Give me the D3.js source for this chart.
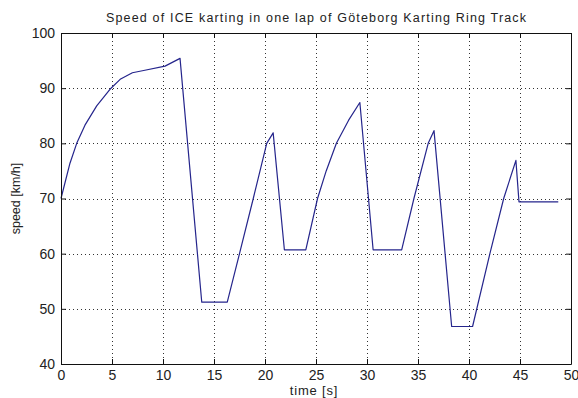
<!DOCTYPE html>
<html>
<head>
<meta charset="utf-8">
<script src="https://cdn.jsdelivr.net/npm/d3@7"></script>
<style>
  html, body { margin: 0; padding: 0; background: #fff; }
  svg { display: block; font-family: "Liberation Sans", Arial, sans-serif; }
</style>
</head>
<body>
<div id="chart"></div>
<script>
// speed trace
const timeS = [0, 0.88, 1.54, 2.35, 3.5, 4.8, 5.8, 7.0, 8.1, 10.2, 11.67,
    13.8, 16.3, 17.5, 18.85, 20.17, 20.8,
    21.9, 24.0, 25.15, 26.0, 27.0, 28.2, 29.3,
    30.6, 33.4, 34.6, 36.0, 36.57,
    38.3, 40.35, 42.06, 43.4, 44.6,
    44.9, 48.75];
const speedKmh = [70, 76.4, 80, 83.3, 86.8, 89.8, 91.6, 92.8, 93.2, 94.0, 95.4,
    51.2, 51.2, 60.0, 70.0, 80.0, 81.9,
    60.7, 60.7, 70.0, 75.0, 80.0, 84.2, 87.4,
    60.7, 60.7, 70.0, 80.0, 82.3,
    46.8, 46.8, 60.1, 70.0, 76.9,
    69.4, 69.4];
const xTicks = [0, 5, 10, 15, 20, 25, 30, 35, 40, 45, 50];
const yTicks = [40, 50, 60, 70, 80, 90, 100];

const W = 578, H = 398;
const margin = { top: 33, right: 7, bottom: 34, left: 61 };
const innerW = W - margin.left - margin.right;
const innerH = H - margin.top - margin.bottom;

const svg = d3.select('#chart').append('svg')
    .attr('width', W)
    .attr('height', H);

const g = svg.append('g')
    .attr('transform', `translate(${margin.left},${margin.top})`);

const x = d3.scaleLinear().domain([0, 50]).range([0, innerW]);
const y = d3.scaleLinear().domain([40, 100]).range([innerH, 0]);

// dotted grid
g.append('g')
    .selectAll('line')
    .data(xTicks.slice(1, -1))
    .join('line')
    .attr('x1', d => Math.round(x(d)) + 0.5)
    .attr('x2', d => Math.round(x(d)) + 0.5)
    .attr('y1', 0)
    .attr('y2', innerH)
    .attr('stroke', '#333')
    .attr('stroke-dasharray', '1,3');

g.append('g')
    .selectAll('line')
    .data(yTicks.slice(1, -1))
    .join('line')
    .attr('y1', d => Math.round(y(d)) + 0.5)
    .attr('y2', d => Math.round(y(d)) + 0.5)
    .attr('x1', 0)
    .attr('x2', innerW)
    .attr('stroke', '#333')
    .attr('stroke-dasharray', '1,3');

// the trace
const line = d3.line()
    .x((d, i) => x(timeS[i]))
    .y(d => y(d));

g.append('path')
    .datum(speedKmh)
    .attr('d', line)
    .attr('fill', 'none')
    .attr('stroke', '#25258c')
    .attr('stroke-width', 1.2)
    .attr('stroke-linejoin', 'round');

// axes, matlab style: ticks pointing in, box all round
function styleAxis(sel) {
    sel.select('.domain').attr('stroke', '#111');
    sel.selectAll('.tick line').attr('stroke', '#111');
    sel.selectAll('.tick text')
        .attr('fill', '#222')
        .attr('font-size', '14px')
        .attr('font-family', '"Liberation Sans", Arial, sans-serif');
}

g.append('g')
    .attr('transform', `translate(0,${innerH})`)
    .call(d3.axisBottom(x).tickValues(xTicks).tickFormat(d3.format('d'))
        .tickSizeInner(-5).tickSizeOuter(0).tickPadding(6))
    .call(styleAxis);

g.append('g')
    .call(d3.axisTop(x).tickValues(xTicks).tickFormat('')
        .tickSizeInner(-5).tickSizeOuter(0))
    .call(styleAxis);

g.append('g')
    .call(d3.axisLeft(y).tickValues(yTicks).tickFormat(d3.format('d'))
        .tickSizeInner(-5).tickSizeOuter(0).tickPadding(6))
    .call(styleAxis);

g.append('g')
    .attr('transform', `translate(${innerW},0)`)
    .call(d3.axisRight(y).tickValues(yTicks).tickFormat('')
        .tickSizeInner(-5).tickSizeOuter(0))
    .call(styleAxis);

// labels
svg.append('text')
    .attr('x', margin.left + innerW / 2)
    .attr('y', 22)
    .attr('text-anchor', 'middle')
    .attr('font-size', '12.5px')
    .attr('fill', '#222')
    .attr('textLength', 420)
    .attr('lengthAdjust', 'spacing')
    .text('Speed of ICE karting in one lap of Göteborg Karting Ring Track');

svg.append('text')
    .attr('x', 314)
    .attr('y', 395)
    .attr('text-anchor', 'middle')
    .attr('font-size', '13px')
    .attr('fill', '#222')
    .attr('letter-spacing', '0.8px')
    .text('time [s]');

svg.append('text')
    .attr('transform', `translate(20,${margin.top + innerH / 2}) rotate(-90)`)
    .attr('text-anchor', 'middle')
    .attr('font-size', '12.5px')
    .attr('fill', '#222')
    .text('speed [km/h]');
</script>
</body>
</html>
